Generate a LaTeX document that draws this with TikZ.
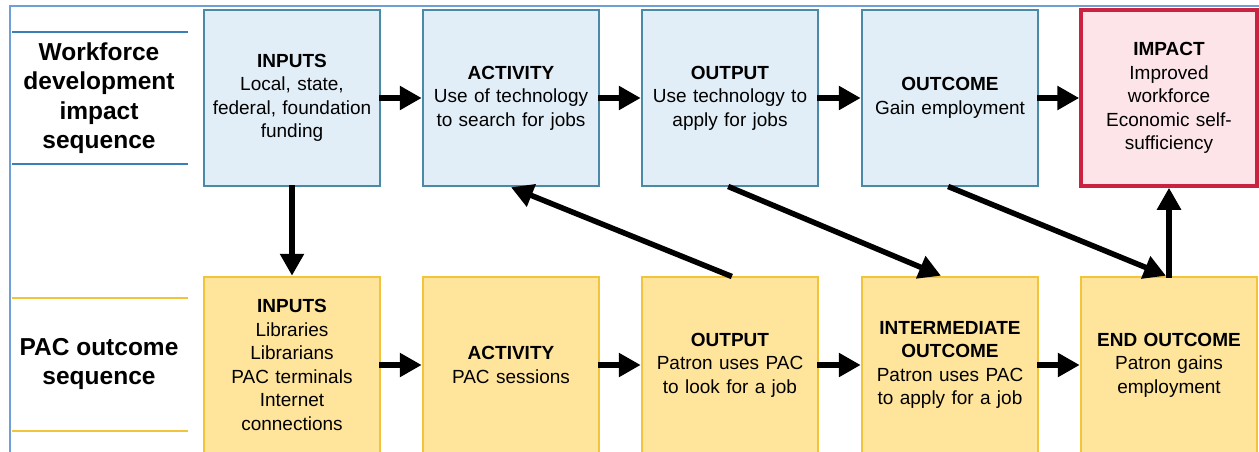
\documentclass[tikz,border=0pt]{standalone}
\usepackage{fontspec}
\setmainfont{Liberation Sans}
\usetikzlibrary{arrows.meta,calc}

\definecolor{bluefill}{RGB}{226,238,247}
\definecolor{blueedge}{RGB}{74,138,166}
\definecolor{yelfill}{RGB}{255,229,155}
\definecolor{yeledge}{RGB}{241,196,60}
\definecolor{redfill}{RGB}{252,228,232}
\definecolor{rededge}{RGB}{204,34,66}
\definecolor{rulesblue}{RGB}{58,128,182}
\definecolor{framecol}{RGB}{110,160,215}

\begin{document}
\begin{tikzpicture}[x=1pt,y=-1pt,
  box/.style={line width=2.5pt, minimum width=176pt, minimum height=176pt,
    inner sep=0pt, align=center, text width=172pt,
    font=\fontsize{19}{23.5}\selectfont},
  bluebox/.style={box, draw=blueedge, fill=bluefill},
  yelbox/.style={box, draw=yeledge, fill=yelfill},
  redbox/.style={box, draw=rededge, fill=redfill, line width=3.5pt},
  rowlabel/.style={align=center, font=\fontsize{24.5}{29.5}\selectfont\bfseries},
  arr/.style={line width=5.5pt, shorten <=-2pt, -{Triangle[length=22pt,width=23pt]}},
  rowrule/.style={line width=2pt}
]
\useasboundingbox (0,0) rectangle (1259,452);

% outer frame
\draw[framecol, line width=2pt] (10,453) -- (10,6) -- (1260,6);

% row labels with their rules
\draw[rowrule, rulesblue] (12,32) -- (188,32);
\draw[rowrule, rulesblue] (12,164) -- (188,164);
\node[rowlabel] (lab1) at (99,98) {Workforce\\development\\impact\\sequence};
\draw[rowrule, yeledge] (12,298) -- (188,298);
\draw[rowrule, yeledge] (12,431) -- (188,431);
\node[rowlabel] (lab2) at (99,364) {PAC outcome\\sequence};

% workforce development impact sequence
\node[bluebox] (tin)  at (292,98)  {\textbf{INPUTS}\\Local, state,\\federal, foundation\\funding};
\node[bluebox] (tact) at (511,98)  {\textbf{ACTIVITY}\\Use of technology\\to search for jobs};
\node[bluebox] (tout) at (730,98)  {\textbf{OUTPUT}\\Use technology to\\apply for jobs};
\node[bluebox] (tocm) at (950,98)  {\textbf{OUTCOME}\\Gain employment};
\node[redbox]  (imp)  at (1169,98) {\textbf{IMPACT}\\Improved\\workforce\\Economic self-\\sufficiency};

% PAC outcome sequence
\node[yelbox] (bin)  at (292,365)  {\textbf{INPUTS}\\Libraries\\Librarians\\PAC terminals\\Internet\\connections};
\node[yelbox] (bact) at (511,365)  {\textbf{ACTIVITY}\\PAC sessions};
\node[yelbox] (bout) at (730,365)  {\textbf{OUTPUT}\\Patron uses PAC\\to look for a job};
\node[yelbox] (bint) at (950,365)  {\textbf{INTERMEDIATE}\\\textbf{OUTCOME}\\Patron uses PAC\\to apply for a job};
\node[yelbox] (bend) at (1169,365) {\textbf{END OUTCOME}\\Patron gains\\employment};

% connectors
\draw[arr] (tin.east) -- (tact.west);
\draw[arr] (tact.east) -- (tout.west);
\draw[arr] (tout.east) -- (tocm.west);
\draw[arr] (tocm.east) -- (imp.west);

\draw[arr] (bin.east) -- (bact.west);
\draw[arr] (bact.east) -- (bout.west);
\draw[arr] (bout.east) -- (bint.west);
\draw[arr] (bint.east) -- (bend.west);

\draw[arr] (tin.south) -- (bin.north);
\draw[arr] (bout.north) -- (tact.south);
\draw[arr] (tout.south) -- ([xshift=-9pt]bint.north);
\draw[arr] (tocm.south) -- ([xshift=-3pt]bend.north);
\draw[arr] (bend.north) -- (imp.south);
\end{tikzpicture}
\end{document}
